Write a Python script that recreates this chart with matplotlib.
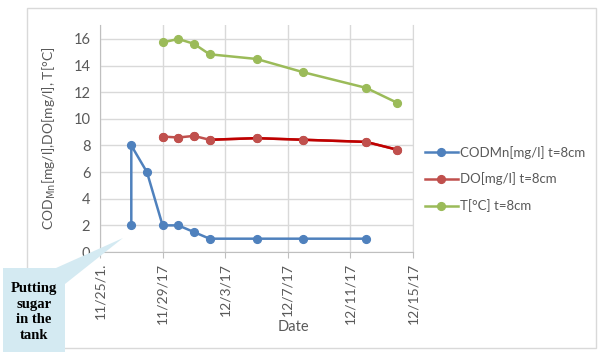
import datetime as dt
import matplotlib
matplotlib.use('Agg')
import matplotlib.pyplot as plt
from matplotlib.patches import Rectangle, Polygon

# fechas de medicion
cod_dates = ['2017-11-27', '2017-11-27', '2017-11-28', '2017-11-29', '2017-11-30',
             '2017-12-01', '2017-12-02', '2017-12-05', '2017-12-08', '2017-12-12']
cod_vals = [2, 8, 6, 2, 2, 1.5, 1, 1, 1, 1]

t_dates = ['2017-11-29', '2017-11-30', '2017-12-01', '2017-12-02', '2017-12-05',
           '2017-12-08', '2017-12-12', '2017-12-14']
do_vals = [8.67, 8.6, 8.72, 8.43, 8.55, 8.43, 8.27, 7.68]
temp_vals = [15.74, 16.0, 15.64, 14.85, 14.5, 13.5, 12.33, 11.2]

tick_dates = ['2017-11-25', '2017-11-29', '2017-12-03', '2017-12-07', '2017-12-11', '2017-12-15']
tick_labels = ['11/25/1.', '11/29/17', '12/3/17', '12/7/17', '12/11/17', '12/15/17']

labels = ['CODMn[mg/l] t=8cm', 'DO[mg/l] t=8cm', 'T[°C] t=8cm']


def toDate(lista):
    return [dt.datetime.strptime(d, '%Y-%m-%d') for d in lista]


plt.rcParams['font.family'] = ['Lato', 'DejaVu Sans']

W, H = 605, 357
fig = plt.figure(figsize=(W / 100, H / 100), dpi=100)


def px(x, y):
    # pixeles de la imagen a coordenadas de figura
    return x / W, 1 - y / H


# borde del grafico
fig.patches.append(Rectangle(px(27, 348), 569 / W, 340 / H, transform=fig.transFigure,
                             fill=False, edgecolor='#D9D9D9', lw=1))

ax = fig.add_axes([100 / W, 1 - 252 / H, 313 / W, 227 / H])

blue = '#4F81BD'
red = '#C0504D'
green = '#9BBB59'
lw = 1.8
ms = 5.6

cd = toDate(cod_dates)
td = toDate(t_dates)

l1, = ax.plot(cd, cod_vals, color=blue, lw=lw, marker='o', ms=ms, zorder=3)
l2, = ax.plot(td, do_vals, color=red, lw=lw, marker='o', ms=ms, zorder=3)
# tramo final mas oscuro
ax.plot(td[3:], do_vals[3:], color='#C00000', lw=lw, zorder=3.5)
ax.plot(td, do_vals, color=red, lw=0, marker='o', ms=ms, zorder=4)
l3, = ax.plot(td, temp_vals, color=green, lw=lw, marker='o', ms=ms, zorder=3)

ticks = toDate(tick_dates)
ax.set_xlim(ticks[0], ticks[-1])
ax.set_ylim(0, 17.05)
ax.set_xticks(ticks)
ax.set_xticklabels(tick_labels, rotation=90, fontsize=10, color='#595959')
ax.set_yticks(range(0, 17, 2))
ax.tick_params(axis='y', labelsize=10.5, colors='#595959', length=0, pad=7)
ax.tick_params(axis='x', length=4, color='#BFBFBF', pad=4)
ax.grid(True, color='#D9D9D9', lw=1)
ax.set_axisbelow(True)
ax.spines['top'].set_visible(False)
ax.spines['right'].set_color('#D9D9D9')
ax.spines['left'].set_color('#BFBFBF')
ax.spines['bottom'].set_color('#BFBFBF')

ax.set_ylabel(r'COD$_{\mathrm{Mn}}$[mg/l],DO[mg/l], T[°C]', fontsize=10, color='#595959')
ax.yaxis.set_label_coords(-0.134, 0.5)
fig.text(*px(293, 327), 'Date', ha='center', va='center', fontsize=10.5, color='#595959')

ax.legend([l1, l2, l3], labels, loc='center left', bbox_to_anchor=px(418, 179),
          bbox_transform=fig.transFigure, frameon=False, fontsize=9.5,
          handlelength=2.5, handletextpad=0.2, labelspacing=1.05, borderpad=0,
          labelcolor='#595959')

# globo de comentario
callout = '#D4EAF2'
fig.patches.append(Polygon([px(123, 238), px(56, 268), px(65, 268), px(65, 284)],
                           closed=True, transform=fig.transFigure,
                           facecolor=callout, edgecolor='none'))
fig.patches.append(Rectangle(px(3, 352), 62 / W, 84 / H, transform=fig.transFigure,
                             facecolor=callout, edgecolor='none'))
fig.text(*px(34, 312), 'Putting\nsugar\nin the\ntank', ha='center', va='center',
         fontsize=10.5, family='Liberation Serif', weight='bold', linespacing=1.25,
         color='black')

fig.savefig('out.png', dpi=100)
